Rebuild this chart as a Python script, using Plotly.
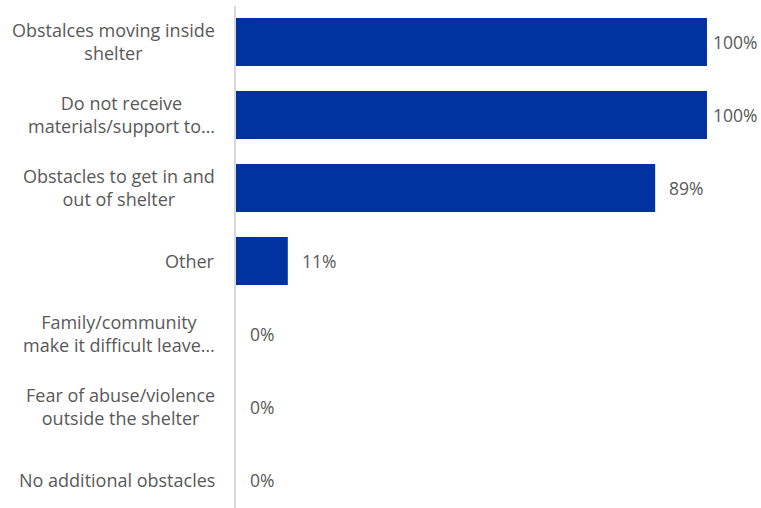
import plotly.graph_objects as go

categories = [
    "Obstalces moving inside<br>shelter",
    "Do not receive<br>materials/support to…",
    "Obstacles to get in and<br>out of shelter",
    "Other",
    "Family/community<br>make it difficult leave…",
    "Fear of abuse/violence<br>outside the shelter",
    "No additional obstacles",
]
values = [100, 100, 89, 11, 0, 0, 0]
value_labels = [f"{v}%" for v in values]

BAR_COLOR = "#0033A0"
TEXT_COLOR = "#595959"
FONT = "Open Sans"
LABEL_SIZE = 18
VALUE_SIZE = 17.5

fig = go.Figure(
    go.Bar(
        x=values,
        y=list(range(len(categories))),
        orientation="h",
        marker=dict(color=BAR_COLOR, line=dict(width=0)),
        hoverinfo="skip",
    )
)

# Category labels: lines centred within a right-aligned block
for i, label in enumerate(categories):
    fig.add_annotation(
        x=0, xref="x", xanchor="right", xshift=-19,
        y=i, yref="y", yanchor="middle",
        text=label, showarrow=False, align="center",
        font=dict(family=FONT, size=LABEL_SIZE, color=TEXT_COLOR),
    )

# Value labels just past the end of each bar
for i, (v, lab) in enumerate(zip(values, value_labels)):
    fig.add_annotation(
        x=v, xref="x", xanchor="left", xshift=12 if v < 100 else 4,
        y=i, yref="y", yanchor="middle",
        text=lab, showarrow=False,
        font=dict(family=FONT, size=VALUE_SIZE, color=TEXT_COLOR),
    )

fig.update_layout(
    width=761, height=508,
    margin=dict(l=236, r=30, t=6, b=0),
    paper_bgcolor="white", plot_bgcolor="white",
    bargap=0.342,
    showlegend=False,
    xaxis=dict(range=[0, 105.1], visible=False, fixedrange=True),
    yaxis=dict(
        range=[6.384, -0.493],
        showticklabels=False, showgrid=False, zeroline=False,
        showline=True, linecolor="#D9D9D9", linewidth=1.5,
        ticks="", fixedrange=True,
    ),
)

fig.write_html("out.html")
